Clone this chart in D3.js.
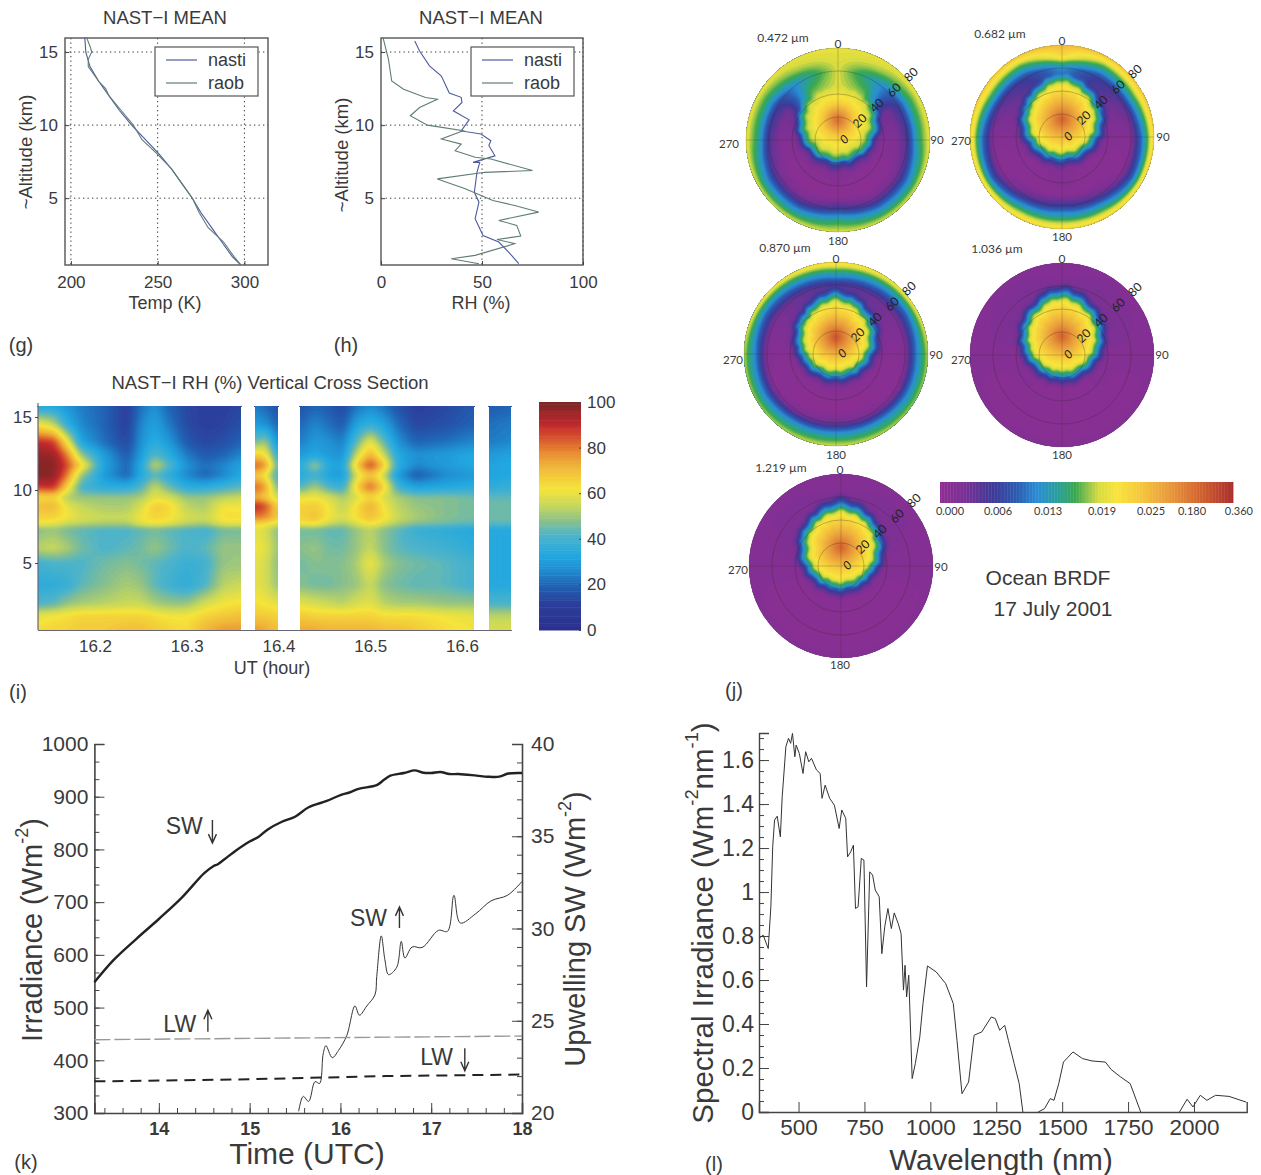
<!DOCTYPE html>
<html><head><meta charset="utf-8">
<script src="https://cdnjs.cloudflare.com/ajax/libs/d3/7.8.5/d3.min.js"></script>
<style>
html,body{margin:0;padding:0;background:#fff;overflow:hidden}
svg{display:block}
text{font-family:"Liberation Sans",Arial,sans-serif;fill:#3a3a3a}
.disc text{font-family:Lato,"Liberation Sans",sans-serif}
.domain{stroke:#444}
.tick line{stroke:#444}
</style></head><body>
<svg id="c" width="1261" height="1175"></svg>
<script>
// ---------- (g) temperature profile ----------
const gNastiAlt=[16,15,14,13,12,11,10,9,8,7,6,5,4,3,2,1,0.43];
const gNastiT=[208,208.6,211,216,222,228,235,243,251,258,264,270,275,281,287,293,298];
const gRaobAlt=[16,15.4,15,14.5,14,13,12.5,12,11,10,9,8,7,6,5,4,3,2,1,0.43];
const gRaobT=[209,211,212,210,210,216,220,222,229,236,241,250,258,264,270,274,279,288,294,298];
const tempTicks=[200,250,300];
const altTicks=[5,10,15];
// ---------- (h) RH profile ----------
const hNastiRH=[16.7,19.1,24,29.9,33.8,39.7,40.1,35.8,43.6,39.7,49.5,54.4,53.4,56.4,45.6,48.9,47.5,46.2,48.5,46.6,50.5,58.3,63.3,68.2];
const hNastiAlt=[15.75,15.07,14.05,13.36,12.2,11.9,11.55,10.98,10.36,9.6,9.39,8.93,8.6,7.9,7.45,7.45,6.77,5.4,4.73,3.6,2.45,2,1.3,0.52];
const hRaobRH=[1,3.7,5.3,11.2,22,27.9,19.1,14.5,23,40.7,29.9,39.7,36.7,46.6,54.4,75,51.5,27.9,41.7,55.4,66.2,78,58.3,67.2,69.2,57.4,66.2,46.6,34.8,48.5];
const hRaobAlt=[15.98,14.5,13.02,12.45,11.89,11.77,11.2,10.64,10,9.61,9.05,8.7,8.25,7.8,7.68,6.89,6.77,6.32,5.64,4.84,4.5,4.05,3.48,3.14,2.41,2.18,1.89,1.09,0.86,0.52];
const rhTicks=[0,50,100];
const legendNames=["nasti","raob"];
// ---------- (i) RH cross section ----------
const iAlts=[15.8,14.5,13.3,12.4,11.7,11,10.2,9.5,8.9,8.1,7.7,7.3,6,5,3.5,2.2,1.4,0.5];
const iSegments=[
 {times:[16.138,16.155,16.17,16.185,16.21,16.235,16.25,16.265,16.28,16.30,16.32,16.34,16.359],
  rows:[
  [32,62,90,97,99,99,88,64,70,66,62,48,54,40,36,42,60,64],
  [32,55,88,96,99,98,90,66,72,66,60,50,56,42,36,44,62,66],
  [28,36,62,80,86,80,66,52,60,62,56,46,52,42,38,50,64,66],
  [24,26,32,50,66,50,40,50,55,58,54,44,46,42,44,52,66,68],
  [20,20,22,30,32,30,36,50,52,56,52,42,42,46,48,54,66,68],
  [12,12,14,18,20,20,36,50,52,56,52,42,44,48,52,56,66,70],
  [22,26,28,30,34,34,42,52,58,62,60,44,46,46,50,56,66,70],
  [28,32,36,44,56,44,56,60,68,66,62,46,50,44,44,52,64,68],
  [20,24,30,36,44,36,46,58,66,64,60,44,46,42,40,50,62,66],
  [14,15,18,24,28,26,36,50,54,58,54,42,42,38,36,50,62,64],
  [12,12,14,18,22,20,36,50,52,56,52,40,44,40,42,58,66,72],
  [12,13,16,20,26,26,40,54,62,64,60,46,50,50,54,62,68,76],
  [14,16,20,26,32,34,44,56,62,64,60,46,50,50,56,64,70,76]]},
 {times:[16.374,16.386,16.399],
  rows:[
  [24,30,45,68,84,70,84,74,92,80,66,60,62,60,60,64,68,76],
  [20,28,52,64,78,62,76,68,86,78,64,58,60,58,58,62,68,74],
  [16,20,26,36,42,38,44,56,66,68,58,48,50,48,50,60,66,70]]},
 {times:[16.423,16.44,16.455,16.47,16.485,16.50,16.515,16.53,16.55,16.58,16.613],
  rows:[
  [16,20,24,30,34,34,42,60,66,66,62,46,48,46,48,60,68,74],
  [20,26,30,34,52,40,52,62,68,70,64,46,50,48,46,58,66,74],
  [18,22,28,30,34,32,42,58,62,62,56,44,46,48,46,56,66,72],
  [14,18,24,28,32,30,38,52,54,58,52,44,46,48,48,54,66,72],
  [22,32,44,56,68,58,66,58,64,64,58,50,50,52,50,58,66,72],
  [26,38,62,74,88,70,84,66,74,70,64,54,56,62,56,60,66,72],
  [22,32,44,56,68,56,66,58,62,64,58,48,48,52,48,54,64,70],
  [16,22,28,34,36,30,40,52,54,56,52,44,44,48,46,52,64,70],
  [12,14,20,28,26,18,32,48,50,52,48,38,42,46,44,52,64,68],
  [14,16,22,30,30,26,34,48,48,48,46,36,40,44,44,50,62,64],
  [18,20,26,34,34,30,36,46,46,46,44,34,36,40,40,50,60,62]]},
 {times:[16.629,16.653],
  rows:[
  [18,22,24,30,32,32,36,44,46,46,44,34,34,34,34,42,54,58],
  [20,24,26,32,34,34,38,44,46,46,44,34,34,34,34,42,54,58]]}
];
const utTicks=[16.2,16.3,16.4,16.5,16.6];
const rhBarTicks=[0,20,40,60,80,100];
const rhStops=[0,12,19,27,33,42,48,55,62,72,78,85,90,100];
const rhColors=["#2c2f8c","#2b3f9c","#2160b2","#2090d2","#22a8e0","#4fb4c8","#8bc08a","#c8d85a","#f5e43a","#f0b53a","#e88a30","#d44f2c","#c0282c","#7a2525"];
// ---------- (j) ocean BRDF: position along colour bar (%) ----------
// background field: rows azimuth 0..180, columns zenith 0..80
const brdfAzimuths=[0,30,60,90,120,150,180];
const brdfZeniths=[0,10,20,30,40,50,60,70,80];
const bg472=[[52,54,54,54,55,55,55,56,58],[52,52,52,54,54,46,38,52,58],[10,10,10,10,12,10,20,44,58],[10,10,8,6,6,6,16,44,58],[5,5,5,5,4,4,10,32,56],[4,4,4,4,3,2,10,34,56],[4,4,4,6,4,3,20,44,56]];
const bg682=[[10,10,10,10,14,28,34,64,72],[8,8,8,8,10,16,20,44,70],[5,5,5,5,8,10,14,44,70],[5,5,5,5,6,5,6,32,68],[4,4,4,4,4,3,4,26,66],[4,4,4,4,4,3,14,40,66],[4,4,4,6,5,4,20,42,66]];
const bg870=[[10,10,10,10,12,14,16,40,66],[8,8,8,8,10,12,12,34,62],[5,5,5,5,8,8,8,28,60],[4,4,4,4,5,4,6,32,54],[4,4,4,4,4,3,4,30,52],[3,3,3,3,3,2,8,36,54],[3,3,3,6,3,2,12,38,56]];
const bg1036=[[6,6,6,6,8,8,7,5,5],[6,6,6,6,8,8,8,7,5],[6,6,6,6,8,8,7,6,5],[5,5,5,5,5,5,5,5,5],[5,5,5,5,5,4,4,4,5],[5,5,4,4,4,4,4,4,5],[5,5,4,4,4,4,4,4,5]];
const bg1219=[[6,6,6,6,7,7,6,5,5],[6,6,6,6,7,8,7,6,5],[6,6,6,6,7,7,6,6,5],[5,5,5,5,5,5,5,5,5],[5,5,5,5,4,4,4,4,5],[5,5,4,4,4,4,4,4,5],[5,5,4,4,4,4,4,4,5]];
// glint lobe: rows direction round the lobe centre, columns distance (px) from it
const glintAngles=[0,45,90,135,180];
const glintDist=[0,8,16,24,32,38,44,52,60];
const glint472=[[88,79,68,60,56,52,30,0,0],[88,79,68,60,54,44,14,0,0],[88,79,68,60,52,32,10,0,0],[88,79,68,61,54,42,14,4,0],[88,79,68,62,56,48,22,8,0]];
const glint682=[[90,82,75,68,62,52,34,12,0],[90,82,74,66,56,36,15,0,0],[90,82,74,66,54,33,14,0,0],[90,82,74,66,56,36,15,0,0],[90,82,74,66,58,40,18,4,0]];
const glint870=[[93,84,76,68,62,50,30,10,0],[93,84,75,66,56,36,15,0,0],[93,84,75,66,54,33,14,0,0],[93,84,75,66,56,36,15,0,0],[93,84,75,66,58,40,18,4,0]];
const glint1036=[[90,82,75,68,63,52,32,10,0],[90,82,74,67,58,38,15,0,0],[90,82,74,66,56,34,14,0,0],[90,82,74,66,58,38,15,0,0],[90,82,74,66,60,46,22,5,0]];
const glint1219=[[90,82,75,68,62,48,28,10,0],[90,82,74,67,58,38,15,0,0],[90,82,74,66,56,36,15,0,0],[90,82,74,66,58,38,15,0,0],[90,82,74,66,60,46,22,5,0]];
// serrated lobe edge (px), read as irregular bumps round the lobe
const glintEdge=[1.2,-0.8,0.4,1.4,-1.2,0.3,-0.6,1.5,-1.4,0.8,0.2,-1,1.3,-0.4,-1.4,0.9,1.4,-0.9,0,-1.3,1,0.5,-1.5,1.4,-0.2,-0.9,1.2,0.6,-1.3,0.3,1.5,-1,-0.3,1.1,-1.4,0.7,0.2,-1.1,1.4,-0.5,-1,1.2,0.4,-1.4,0.9,-0.2,1.3,-0.9];
const brdfNames=["0.472 µm","0.682 µm","0.870 µm","1.036 µm","1.219 µm"];
const brdfRingLabels=[0,20,40,60,80];
const brdfStops=[0,8,18,26,33,40,46,50,54,60,68,78,87,100];
const brdfColors=["#8e2e92","#7a3094","#3d3a98","#2c5cb0","#2a8ed4","#2a9f9a","#3aa850","#8cc24a","#d8dc40","#f8e43c","#f5c83c","#e89a3c","#d86a30","#a82c2c"];
const brdfTickLabels=["0.000","0.006","0.013","0.019","0.025","0.180","0.360"];
const brdfTickPos=[3.4,19.8,36.9,55.3,72,86,102];
// ---------- (k) irradiance ----------
const swDownTime=[13.29,13.5,13.75,14,14.25,14.5,14.6,14.65,14.75,14.85,15,15.1,15.2,15.35,15.5,15.65,15.85,16,16.1,16.2,16.4,16.48,16.55,16.7,16.82,16.9,17,17.1,17.2,17.3,17.5,17.62,17.75,17.85,18];
const swDownW=[548,590,630,668,708,755,768,772,785,798,815,824,838,852,862,880,892,903,908,915,922,932,940,945,950,946,945,947,943,943,940,938,938,944,945];
const swUpTime=[15.54,15.59,15.65,15.72,15.77,15.81,15.84,15.91,15.98,16.07,16.16,16.21,16.29,16.38,16.40,16.45,16.49,16.53,16.62,16.67,16.71,16.79,16.9,17.08,17.18,17.25,17.32,17.49,17.66,17.84,18];
const swUpW=[20.09,20.9,20.63,21.7,21.6,23.2,23.65,23,23.4,24.2,25.8,25.3,25.8,26.4,27.4,29.6,28.3,27.5,27.9,29.3,28.4,29,28.97,29.9,29.85,31.8,30.3,30.8,31.5,31.8,32.55];
const lwUpTime=[13.29,18];
const lwUpW=[439,446];
const lwDownTime=[13.29,15,16.5,18];
const lwDownW=[360,364,370,373];
const kNotes=[{t:"SW",x:14.28,y:844,ax:14.59,a0:856,a1:812},{t:"SW",x:16.31,y:670,ax:16.65,a0:651,a1:691},{t:"LW",x:14.23,y:469,ax:14.54,a0:454,a1:495},{t:"LW",x:17.06,y:406,ax:17.37,a0:423,a1:380}];
// ---------- (l) spectral irradiance ----------
const specNm=[350,366,385,395,402,409,419,431,438,452,462,470,477,486,491,503,517,527,539,549,568,582,589,601,618,636,654,664,679,686,698,708,716,726,738,748,758,770,781,791,806,816,827,839,852,863,878,889,898,904,910,918,931,943,960,972,989,1022,1058,1087,1101,1120,1145,1166,1195,1231,1246,1263,1282,1296,1318,1337,1351,null,1409,1433,1455,1469,1487,1505,1541,1577,1613,1664,1686,1722,1758,1798,null,1945,1974,1996,2024,2049,2082,2133,2198];
const specVal=[0.79,0.804,0.743,0.933,1.206,1.327,1.345,1.251,1.433,1.661,1.699,1.676,1.721,1.615,1.668,1.63,1.539,1.638,1.592,1.608,1.555,1.539,1.426,1.486,1.426,1.395,1.289,1.373,1.335,1.16,1.183,1.213,0.925,0.933,1.153,1.145,0.569,1.092,1.077,1.009,0.978,0.72,0.842,0.925,0.834,0.905,0.857,0.811,0.554,0.667,0.523,0.622,0.152,0.22,0.341,0.493,0.664,0.637,0.584,0.493,0.326,0.083,0.136,0.349,0.364,0.432,0.425,0.372,0.394,0.326,0.22,0.129,0,null,0,0.015,0.061,0.053,0.129,0.227,0.273,0.243,0.232,0.227,0.193,0.159,0.129,0,null,0,0.058,0.023,0.076,0.053,0.076,0.071,0.045];
const specTicks=[500,750,1000,1250,1500,1750,2000];
const specYTicks=[0,0.2,0.4,0.6,0.8,1,1.2,1.4,1.6];

const svg=d3.select("#c");
const rhColor=d3.scaleLinear().domain(rhStops).range(rhColors).clamp(true);
const brdfColor=d3.scaleLinear().domain(brdfStops).range(brdfColors).clamp(true);
const plain=d=>String(d);

function txt(g,x,y,s,o={}){
  const t=g.append("text").attr("x",x).attr("y",y).attr("text-anchor",o.a||"middle")
   .attr("dominant-baseline","central").attr("font-size",o.s||16).text(s);
  if(o.w)t.attr("font-weight",o.w);
  if(o.r!=null)t.attr("transform",`rotate(${o.r} ${x} ${y})`);
  if(o.i)t.attr("font-style","italic");
  return t;
}
function styleAxis(a,fs){a.selectAll("text").attr("font-size",fs);return a;}

// ---- matlab-style profile panels
function profile(o){
  const g=svg.append("g");
  const [l,r,t,b]=o.box;
  const x=d3.scaleLinear().domain(o.xd).range([l,r]);
  const y=d3.scaleLinear().domain([0.43,15.96]).range([b,t]);
  o.xt.forEach(v=>{if(v>o.xd[0])g.append("line").attr("x1",x(v)).attr("x2",x(v)).attr("y1",t).attr("y2",b).attr("stroke","#333").attr("stroke-dasharray","1.3 3.2");});
  altTicks.forEach(v=>g.append("line").attr("x1",l).attr("x2",r).attr("y1",y(v)).attr("y2",y(v)).attr("stroke","#333").attr("stroke-dasharray","1.3 3.2"));
  g.append("rect").attr("x",l).attr("y",t).attr("width",r-l).attr("height",b-t).attr("fill","none").attr("stroke","#555").attr("stroke-width",1.4);
  const ax=g.append("g").attr("transform",`translate(0,${b})`).call(d3.axisBottom(x).tickValues(o.xt).tickSize(-4).tickPadding(11).tickFormat(plain));
  ax.select(".domain").remove();styleAxis(ax,17);
  const ay=g.append("g").attr("transform",`translate(${l},0)`).call(d3.axisLeft(y).tickValues(altTicks).tickSize(-4).tickPadding(7).tickFormat(plain));
  ay.select(".domain").remove();styleAxis(ay,17);
  const ln=d3.line().x(d=>x(d[0])).y(d=>y(d[1]));
  const cols=["#4d5a9e","#5f7d72"];
  g.append("path").attr("d",ln(d3.zip(o.a[0],o.a[1]))).attr("fill","none").attr("stroke",cols[0]).attr("stroke-width",1.1);
  g.append("path").attr("d",ln(d3.zip(o.b[0],o.b[1]))).attr("fill","none").attr("stroke",cols[1]).attr("stroke-width",1.1);
  const lx=o.legend;
  g.append("rect").attr("x",lx).attr("y",47).attr("width",103).attr("height",49).attr("fill","#fff").attr("stroke","#555").attr("stroke-width",1.2);
  legendNames.forEach((n,i)=>{
    const yy=60+i*23;
    g.append("line").attr("x1",lx+11).attr("x2",lx+42).attr("y1",yy).attr("y2",yy).attr("stroke",cols[i]).attr("stroke-width",1.2);
    txt(g,lx+53,yy,n,{a:"start",s:18});
  });
  txt(g,o.tx,17,"NAST−I MEAN",{s:18.5});
  txt(g,o.tx,303,o.xlab,{s:18});
  txt(g,o.yx,o.yy,"~Altitude (km)",{s:18.5,r:-90});
}
profile({box:[65,268,38,265],xd:[196.6,313.6],xt:tempTicks,a:[gNastiT,gNastiAlt],b:[gRaobT,gRaobAlt],legend:155,tx:165,xlab:"Temp (K)",yx:25,yy:152});
profile({box:[381,583,38,265],xd:[0,100],xt:rhTicks,a:[hNastiRH,hNastiAlt],b:[hRaobRH,hRaobAlt],legend:471,tx:481,xlab:"RH (%)",yx:341,yy:155});
txt(svg,21,345,"(g)",{s:20});txt(svg,346,345,"(h)",{s:20});

// ---- (i)
function lerpIdx(arr,v){ // arr may be ascending or descending
  const n=arr.length, asc=arr[0]<arr[n-1];
  if(asc?v<=arr[0]:v>=arr[0])return 0;
  if(asc?v>=arr[n-1]:v<=arr[n-1])return n-1;
  let i=0;while(asc?arr[i+1]<v:arr[i+1]>v)i++;
  return i+(v-arr[i])/(arr[i+1]-arr[i]);
}
function bilerp(T,ri,ci){
  const r0=Math.floor(ri),r1=Math.min(r0+1,T.length-1),c0=Math.floor(ci),c1=Math.min(c0+1,T[0].length-1);
  const fr=ri-r0,fc=ci-c0;
  return (T[r0][c0]*(1-fc)+T[r0][c1]*fc)*(1-fr)+(T[r1][c0]*(1-fc)+T[r1][c1]*fc)*fr;
}
function field(g,w,h,fn,thr,color,rx,ry){
  const values=new Float64Array(w*h);
  for(let j=0;j<h;j++)for(let i=0;i<w;i++)values[j*w+i]=fn(i+.5,j+.5);
  if(d3.blur2)d3.blur2({data:values,width:w,height:h},rx,ry);
  const cs=d3.contours().size([w,h]).smooth(true).thresholds(thr)(values);
  g.selectAll("path").data(cs).join("path").attr("d",d3.geoPath()).attr("fill",d=>color(d.value));
}
(function(){
  const g=svg.append("g");
  const x=d3.scaleLinear().domain([16.2,16.6]).range([95,462]);
  const y=d3.scaleLinear().domain([0.41,15.96]).range([630,403]);
  const top=y(15.75);
  iSegments.forEach(seg=>{
    const x0=Math.round(x(seg.times[0])),x1=Math.round(x(seg.times[seg.times.length-1]));
    const w=x1-x0,h=Math.round(630-top);
    const gs=g.append("g").attr("transform",`translate(${x0},${top})`);
    const fn=(i,j)=>bilerp(seg.rows,lerpIdx(seg.times,x.invert(x0+i)),lerpIdx(iAlts,y.invert(top+j)));
    field(gs,w,h,fn,d3.range(0,101,1),rhColor,3,1.5);
  });
  g.append("line").attr("x1",38).attr("x2",512).attr("y1",630.5).attr("y2",630.5).attr("stroke","#667");
  g.append("line").attr("x1",38).attr("x2",38).attr("y1",403).attr("y2",630).attr("stroke","#667").attr("stroke-width",1.2);
  const ay=g.append("g").attr("transform","translate(38,0)").call(d3.axisLeft(y).tickValues(altTicks).tickSize(3).tickPadding(3).tickFormat(plain));
  ay.select(".domain").remove();styleAxis(ay,17);
  const ax=g.append("g").attr("transform","translate(0,630)").call(d3.axisBottom(x).tickValues(utTicks).tickSize(0).tickPadding(10).tickFormat(plain));
  ax.select(".domain").remove();styleAxis(ax,17);
  txt(g,270,382,"NAST−I RH (%) Vertical Cross Section",{s:18.5});
  txt(g,272,668,"UT (hour)",{s:18});
  const cy=d3.scaleLinear().domain([0,100]).range([630,402]);
  g.selectAll("rect.bar").data(d3.range(0,100,1)).join("rect").attr("class","bar").attr("x",539).attr("width",42)
    .attr("y",d=>cy(d+1)).attr("height",d=>cy(d)-cy(d+1)+.5).attr("fill",d=>rhColor(d+.5));
  const ab=g.append("g").attr("transform","translate(581,0)").call(d3.axisRight(cy).tickValues(rhBarTicks).tickSize(-2).tickPadding(6).tickFormat(plain));
  ab.select(".domain").remove();styleAxis(ab,17);
  txt(svg,18,692,"(i)",{s:20});
})();

// ---- (j)
const discs=[
 {t:bg472,gl:glint472,off:20,cx:838,cy:140,tx:783,ty:37,l0:[838,43],l180:[838,240],l270:[729,143],l90:[937,139]},
 {t:bg682,gl:glint682,off:18,cx:1062,cy:137,tx:1000,ty:33,l0:[1062,40],l180:[1062,236],l270:[961,140],l90:[1163,136]},
 {t:bg870,gl:glint870,off:17,cx:836,cy:354,tx:785,ty:247,l0:[836,258],l180:[836,454],l270:[733,359],l90:[936,354]},
 {t:bg1036,gl:glint1036,off:19,cx:1062,cy:355,tx:997,ty:248,l0:[1062,258],l180:[1062,454],l270:[961,359],l90:[1162,354]},
 {t:bg1219,gl:glint1219,off:19,cx:841,cy:566,tx:781,ty:467,l0:[840,469],l180:[840,664],l270:[738,569],l90:[941,566]}
];
const R=92, rScale=d3.scaleLinear().domain([0,80]).range([0,R]);
discs.forEach((d,di)=>{
  const g=svg.append("g").attr("class","disc");
  const id="clip"+di;
  g.append("clipPath").attr("id",id).append("circle").attr("cx",d.cx).attr("cy",d.cy).attr("r",R);
  const gc=g.append("g").attr("clip-path",`url(#${id})`);
  const gf=gc.append("g").attr("transform",`translate(${d.cx-R},${d.cy-R})`);
  const nE=glintEdge.length;
  const fn=(i,j)=>{
    const dx=i-R,dy=j-R,r=Math.hypot(dx,dy);
    const az=r<1e-6?0:Math.acos(Math.max(-1,Math.min(1,-dy/r)))*180/Math.PI;
    const bg=bilerp(d.t,lerpIdx(brdfAzimuths,az),lerpIdx(brdfZeniths,rScale.invert(r)));
    const gy=dy+d.off, gd=Math.hypot(dx,gy);
    const gaz=gd<1e-6?0:Math.acos(Math.max(-1,Math.min(1,-gy/gd)))*180/Math.PI;
    const full=(Math.atan2(dx,-gy)/(2*Math.PI)+1)%1*nE+di*7;
    const k0=Math.floor(full),fe=full-k0;
    const jag=glintEdge[k0%nE]*(1-fe)+glintEdge[(k0+1)%nE]*fe;
    const gv=bilerp(d.gl,lerpIdx(glintAngles,gaz),lerpIdx(glintDist,Math.max(0,gd+jag*Math.min(1,gd/24))));
    return Math.max(bg,gv);
  };
  field(gf,2*R,2*R,fn,d3.range(0,101,1.5),brdfColor,1,1);
  [20,40,60].forEach(z=>gc.append("circle").attr("cx",d.cx).attr("cy",d.cy).attr("r",rScale(z)).attr("fill","none").attr("stroke","#3a2a2a").attr("stroke-opacity",.38).attr("stroke-width",.8));
  gc.append("line").attr("x1",d.cx-R).attr("x2",d.cx+R).attr("y1",d.cy).attr("y2",d.cy).attr("stroke","#3a2a2a").attr("stroke-opacity",.3).attr("stroke-width",.8);
  gc.append("line").attr("x1",d.cx).attr("x2",d.cx).attr("y1",d.cy-R).attr("y2",d.cy+R).attr("stroke","#3a2a2a").attr("stroke-opacity",.3).attr("stroke-width",.8);
  g.append("circle").attr("cx",d.cx).attr("cy",d.cy).attr("r",R).attr("fill","none").attr("stroke","#556").attr("stroke-opacity",.3).attr("stroke-width",.7);
  txt(g,d.tx,d.ty,brdfNames[di],{s:12});
  txt(g,d.l0[0],d.l0[1],"0",{s:12});txt(g,d.l180[0],d.l180[1],"180",{s:11.5});
  txt(g,d.l270[0],d.l270[1],"270",{s:11.5});txt(g,d.l90[0],d.l90[1],"90",{s:11.5});
  brdfRingLabels.forEach(z=>{
    const rr=z===0?8.5:rScale(z)+6;
    const lx=d.cx+(z===0?6:rr*Math.cos(-Math.PI/180*42)),ly=d.cy+(z===0?-1:rr*Math.sin(-Math.PI/180*42));
    txt(g,lx,ly,String(z),{s:12,r:-45,i:z===0}).style("fill","#222");
  });
});
(function(){
  const g=svg.append("g").attr("class","disc");
  const bx=d3.scaleLinear().domain([0,100]).range([940,1233]);
  g.selectAll("rect").data(d3.range(0,100,.5)).join("rect").attr("x",d=>bx(d)).attr("width",bx(.5)-bx(0)+.4)
    .attr("y",482).attr("height",21).attr("fill",d=>brdfColor(d));
  brdfTickLabels.forEach((s,i)=>txt(g,bx(brdfTickPos[i]),510,s,{s:11}));
  txt(svg,1048,577,"Ocean BRDF",{s:21});
  txt(svg,1053,608,"17 July 2001",{s:21});
  txt(svg,734,690,"(j)",{s:20});
})();

function supTitle(g,x,y,parts,fs,rot){
  const t=g.append("text").attr("x",x).attr("y",y).attr("text-anchor","middle").attr("dominant-baseline","central").attr("font-size",fs);
  if(rot!=null)t.attr("transform",`rotate(${rot} ${x} ${y})`);
  parts.forEach(p=>{
    const s=t.append("tspan").text(p[0]);
    if(p[1]){s.attr("font-size",fs*.62).attr("dy",-fs*.36);}
    else if(p[2]){s.attr("dy",fs*.36);}
  });
}

// ---- (k)
(function(){
  const g=svg.append("g");
  const x=d3.scaleLinear().domain([13.29,18]).range([94.4,522]);
  const y=d3.scaleLinear().domain([300,1000]).range([1113,744]);
  const y2=d3.scaleLinear().domain([20,40]).range([1113,744]);
  const ax=g.append("g").attr("transform","translate(0,1113)").call(d3.axisBottom(x).tickValues([14,15,16,17,18]).tickSize(-10).tickPadding(9).tickFormat(plain));
  ax.selectAll(".domain").attr("stroke-width",1.6);styleAxis(ax,18).selectAll("text").attr("font-weight","bold");
  g.append("g").attr("transform","translate(0,1113)").call(d3.axisBottom(x).tickValues(d3.range(13.4,18,.2)).tickSize(-5).tickFormat("")).select(".domain").remove();
  const ay=g.append("g").attr("transform","translate(94.4,0)").call(d3.axisLeft(y).tickValues(d3.range(300,1001,100)).tickSize(-10).tickPadding(6).tickFormat(plain));
  ay.selectAll(".domain").attr("stroke-width",1.6);styleAxis(ay,21);
  g.append("g").attr("transform","translate(94.4,0)").call(d3.axisLeft(y).tickValues(d3.range(300,1000,100/3)).tickSize(-5).tickFormat("")).select(".domain").remove();
  const ar=g.append("g").attr("transform","translate(522,0)").call(d3.axisRight(y2).tickValues([20,25,30,35,40]).tickSize(-10).tickPadding(9).tickFormat(plain));
  ar.selectAll(".domain").attr("stroke-width",1.6);styleAxis(ar,21);
  g.append("g").attr("transform","translate(522,0)").call(d3.axisRight(y2).tickValues(d3.range(20,40,1)).tickSize(-5).tickFormat("")).select(".domain").remove();
  const l1=d3.line().x(d=>x(d[0])).y(d=>y(d[1]));
  const c1=d3.line().curve(d3.curveCatmullRom).x(d=>x(d[0])).y(d=>y(d[1]));
  const c2=d3.line().curve(d3.curveCatmullRom).x(d=>x(d[0])).y(d=>y2(d[1]));
  g.append("path").attr("d",c1(d3.zip(swDownTime,swDownW))).attr("fill","none").attr("stroke","#222").attr("stroke-width",2.4);
  g.append("path").attr("d",c2(d3.zip(swUpTime,swUpW))).attr("fill","none").attr("stroke","#333").attr("stroke-width",1);
  g.append("path").attr("d",l1(d3.zip(lwUpTime,lwUpW))).attr("fill","none").attr("stroke","#999").attr("stroke-width",1.4).attr("stroke-dasharray","16 4");
  g.append("path").attr("d",l1(d3.zip(lwDownTime,lwDownW))).attr("fill","none").attr("stroke","#222").attr("stroke-width",2).attr("stroke-dasharray","11 7");
  kNotes.forEach(n=>{
    txt(g,x(n.x),y(n.y),n.t,{s:23});
    const xa=x(n.ax),ya=y(n.a0),yb=y(n.a1),dir=yb>ya?1:-1;
    g.append("path").attr("d",`M${xa},${ya}L${xa},${yb}M${xa-4},${yb-dir*9}L${xa},${yb}L${xa+4},${yb-dir*9}`).attr("fill","none").attr("stroke","#333").attr("stroke-width",1.4);
  });
  txt(g,307,1153,"Time (UTC)",{s:30});
  supTitle(g,32,930,[["Irradiance (Wm"],["-2",1],[")",0,1]],29,-90);
  supTitle(g,575,929,[["Upwelling SW (Wm"],["-2",1],[")",0,1]],29,-90);
  txt(svg,26,1162,"(k)",{s:20});
})();

// ---- (l)
(function(){
  const g=svg.append("g");
  const x=d3.scaleLinear().domain([350,2200]).range([759,1246.7]);
  const y=d3.scaleLinear().domain([0,1.723]).range([1112,733]);
  const ax=g.append("g").attr("transform","translate(0,1112)").call(d3.axisBottom(x).tickValues(specTicks).tickSize(-10).tickPadding(7).tickFormat(plain));
  ax.selectAll(".domain").attr("stroke-width",1.4);styleAxis(ax,22.5);
  const ay=g.append("g").attr("transform","translate(759,0)").call(d3.axisLeft(y).tickValues(specYTicks).tickSize(-10).tickPadding(5).tickFormat(plain));
  ay.selectAll(".domain").attr("stroke-width",1.4);styleAxis(ay,23);
  g.append("g").attr("transform","translate(759,0)").call(d3.axisLeft(y).tickValues(d3.range(0,1.72,.05)).tickSize(-5).tickFormat("")).select(".domain").remove();
  const ln=d3.line().defined(d=>d[0]!=null).x(d=>x(d[0])).y(d=>y(d[1]));
  g.append("path").attr("d",ln(d3.zip(specNm,specVal))).attr("fill","none").attr("stroke","#333").attr("stroke-width",1);
  txt(g,1001,1159,"Wavelength (nm)",{s:29.5});
  supTitle(g,702,923,[["Spectral Irradiance (Wm"],["-2",1],["nm",0,1],["-1",1],[")",0,1]],29.5,-90);
  txt(svg,714,1164,"(l)",{s:20});
})();
</script>
</body></html>
